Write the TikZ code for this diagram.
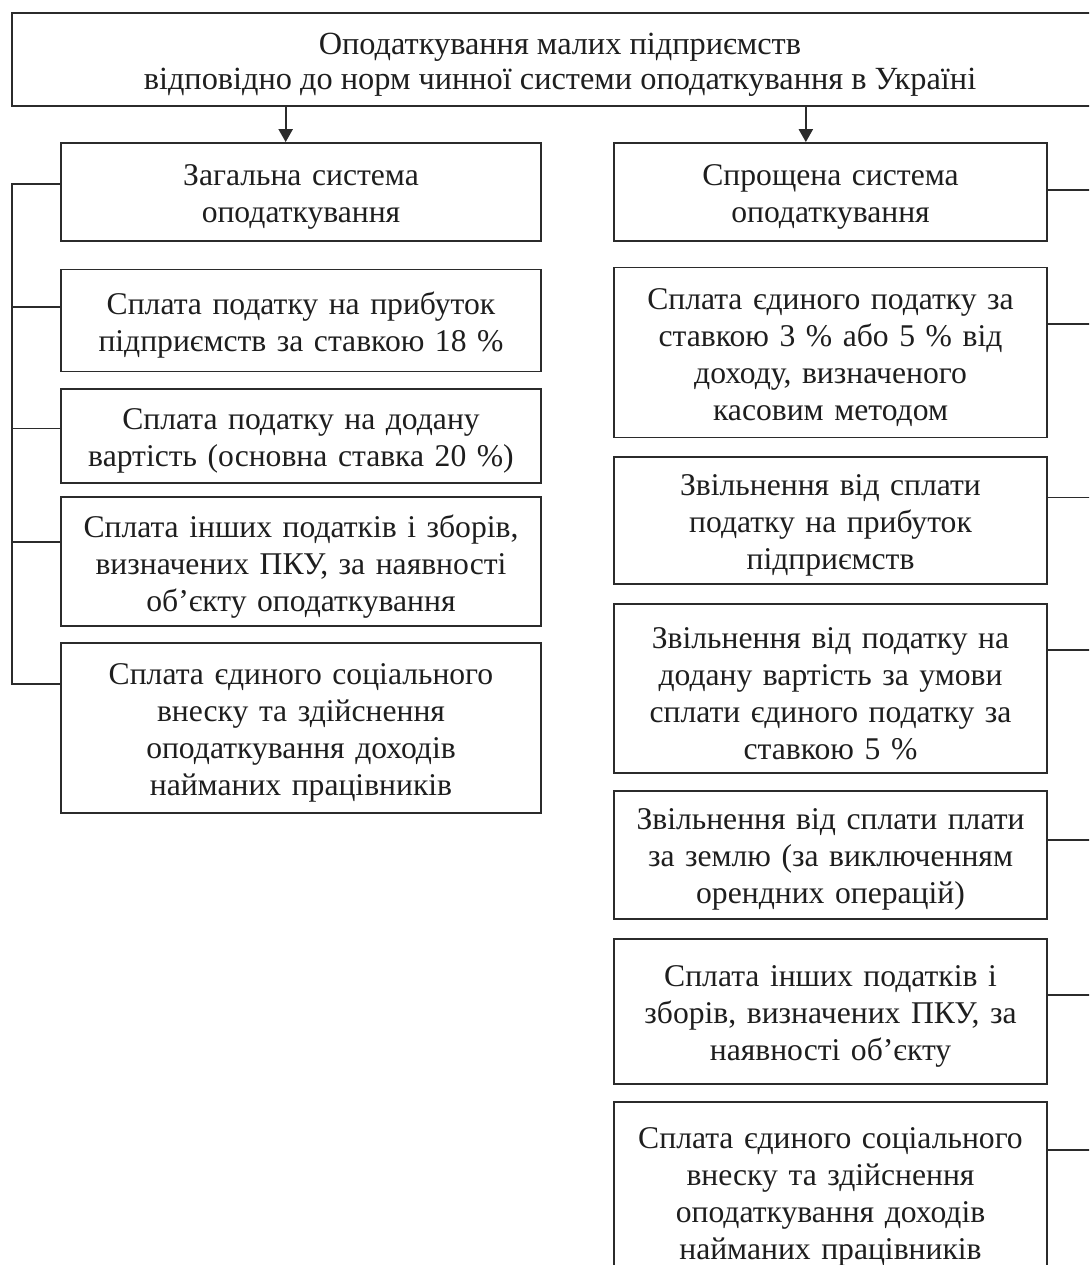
\documentclass[tikz,border=0pt]{standalone}
\usepackage{fontspec}
\setmainfont{Liberation Serif}
\usetikzlibrary{positioning, arrows.meta}
\definecolor{inkline}{HTML}{2B2B2B}
\definecolor{inktext}{HTML}{1E1E1E}

\begin{document}
\begin{tikzpicture}[
  node distance=0.3cm,
  titleNode/.style={draw=inkline, line width=0.8pt, minimum width=16.44cm, minimum height=1.395cm, align=center, text=inktext, font=\fontsize{13.8}{15}\selectfont, inner sep=2pt},
  leftNode/.style={draw=inkline, line width=0.8pt, minimum width=7.2cm, text width=6.9cm, align=center, text=inktext, font=\fontsize{13.5}{15.8}\selectfont, inner sep=2pt, execute at end node={\endgraf\vspace{-4pt}}},
  rightNode/.style={leftNode, minimum width=6.495cm, text width=6.2cm},
  arrow/.style={-{Triangle[length=5.5pt,width=6pt]}, line width=0.8pt, draw=inkline},
  link/.style={line width=0.8pt, draw=inkline}
]
\useasboundingbox (0,0) rectangle (16.335,-18.975);
\clip (0,0) rectangle (16.335,-18.975);

% Root
\node[titleNode] (tax) at (8.40,-0.8925) {\rule{0pt}{14pt}Оподаткування малих підприємств\\відповідно до норм чинної системи оподаткування в Україні};

% General system
\node[leftNode, minimum height=1.47cm] (gen) at (4.515,-2.88) {Загальна система\\оподаткування};
\node[leftNode, minimum height=1.53cm, below=0.4cm of gen] (genProfit) {Сплата податку на прибуток\\підприємств за ставкою 18 \%};
\node[leftNode, minimum height=1.41cm, below=0.24cm of genProfit] (genVat) {Сплата податку на додану\\вартість (основна ставка 20 \%)};
\node[leftNode, minimum height=1.935cm, below=0.18cm of genVat] (genOther) {Сплата інших податків і зборів,\\визначених ПКУ, за наявності\\об’єкту оподаткування};
\node[leftNode, minimum height=2.55cm, below=0.225cm of genOther] (genSocial) {Сплата єдиного соціального\\внеску та здійснення\\оподаткування доходів\\найманих працівників};

% Simplified system
\node[rightNode, minimum height=1.47cm] (simp) at (12.4575,-2.88) {Спрощена система\\оподаткування};
\node[rightNode, minimum height=2.55cm, below=0.37cm of simp] (simpTax) {Сплата єдиного податку за\\ставкою 3 \% або 5 \% від\\доходу, визначеного\\касовим методом};
\node[rightNode, minimum height=1.905cm, below=0.27cm of simpTax] (simpProfit) {Звільнення від сплати\\податку на прибуток\\підприємств};
\node[rightNode, minimum height=2.535cm, below=0.27cm of simpProfit] (simpVat) {Звільнення від податку на\\додану вартість за умови\\сплати єдиного податку за\\ставкою 5 \%};
\node[rightNode, minimum height=1.92cm, below=0.24cm of simpVat] (simpLand) {Звільнення від сплати плати\\за землю (за виключенням\\орендних операцій)};
\node[rightNode, minimum height=2.175cm, below=0.27cm of simpLand] (simpOther) {Сплата інших податків і\\зборів, визначених ПКУ, за\\наявності об’єкту};
\node[rightNode, minimum height=2.7cm, below=0.24cm of simpOther] (simpSocial) {Сплата єдиного соціального\\внеску та здійснення\\оподаткування доходів\\найманих працівників};

% Arrows from the root
\draw[arrow] ([xshift=-0.23cm]gen.north |- tax.south) -- ([xshift=-0.23cm]gen.north);
\draw[arrow] ([xshift=-0.37cm]simp.north |- tax.south) -- ([xshift=-0.37cm]simp.north);

% Left bus
\coordinate (busL) at (0.18,0);
\coordinate (g1) at ([yshift=-0.63cm]gen.north west);
\coordinate (g2) at ([yshift=-0.57cm]genProfit.north west);
\coordinate (g3) at ([yshift=-0.6cm]genVat.north west);
\coordinate (g4) at ([yshift=-0.69cm]genOther.north west);
\coordinate (g5) at ([yshift=-0.62cm]genSocial.north west);
\draw[link] (g1) -- (g1 -| busL) -- (g5 -| busL) -- (g5);
\draw[link] (g2) -- (g2 -| busL);
\draw[link] (g3) -- (g3 -| busL);
\draw[link] (g4) -- (g4 -| busL);

% Right bus
\coordinate (busR) at (16.5,0);
\coordinate (s1) at ([yshift=-0.72cm]simp.north east);
\coordinate (s2) at ([yshift=-0.855cm]simpTax.north east);
\coordinate (s3) at ([yshift=-0.615cm]simpProfit.north east);
\coordinate (s4) at ([yshift=-0.705cm]simpVat.north east);
\coordinate (s5) at ([yshift=-0.75cm]simpLand.north east);
\coordinate (s6) at ([yshift=-0.855cm]simpOther.north east);
\coordinate (s7) at ([yshift=-0.735cm]simpSocial.north east);
\draw[link] (s1) -- (s1 -| busR) -- (s7 -| busR) -- (s7);
\draw[link] (s2) -- (s2 -| busR);
\draw[link] (s3) -- (s3 -| busR);
\draw[link] (s4) -- (s4 -| busR);
\draw[link] (s5) -- (s5 -| busR);
\draw[link] (s6) -- (s6 -| busR);

\end{tikzpicture}
\end{document}
